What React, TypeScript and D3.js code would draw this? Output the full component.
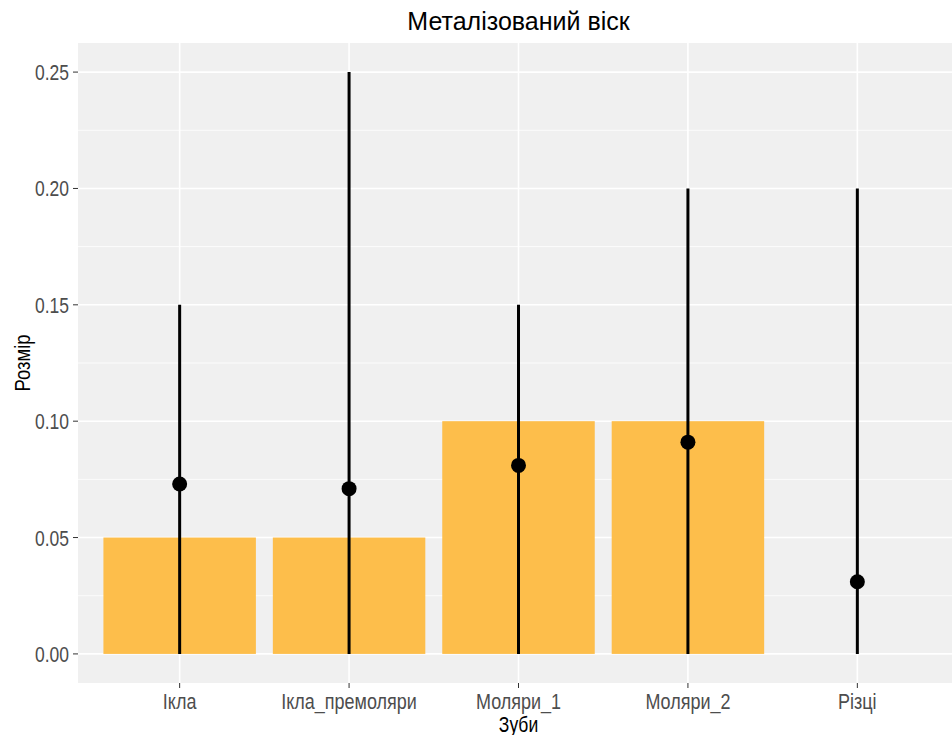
import React from "react";
import * as d3 from "d3";

// Teeth groups and their measurements
const categories = ["Ікла", "Ікла_премоляри", "Моляри_1", "Моляри_2", "Різці"];
const barValues = [0.05, 0.05, 0.1, 0.1, 0];
const meanValues = [0.073, 0.071, 0.081, 0.091, 0.031];
const minValues = [0, 0, 0, 0, 0];
const maxValues = [0.15, 0.25, 0.15, 0.2, 0.2];
const yTicks = [0, 0.05, 0.1, 0.15, 0.2, 0.25];
const yMinorTicks = [0.025, 0.075, 0.125, 0.175, 0.225];

const W = 952;
const H = 735;
const panel = { left: 78, right: 959, top: 43, bottom: 683 };
const font = "'Liberation Sans', Arial, sans-serif";
// glyphs are drawn a little taller than wide
const stretch = 1.22;

export default function App() {
  const step = (panel.right - panel.left) / (categories.length - 1 + 1.2);
  const x = d3
    .scalePoint<string>()
    .domain(categories)
    .range([panel.left + 0.6 * step, panel.right - 0.6 * step]);
  const y = d3.scaleLinear().domain([-0.0125, 0.2625]).range([panel.bottom, panel.top]);
  const barW = step * 0.9;

  return (
    <svg
      width={W}
      height={H}
      style={{ position: "absolute", left: 0, top: 0, background: "#fff" }}
    >
      <defs>
        <clipPath id="panelClip">
          <rect x={panel.left} y={panel.top} width={W - panel.left} height={panel.bottom - panel.top} />
        </clipPath>
      </defs>
      <rect
        x={panel.left}
        y={panel.top}
        width={panel.right - panel.left}
        height={panel.bottom - panel.top}
        fill="#F0F0F0"
      />
      <g clipPath="url(#panelClip)">
        {yMinorTicks.map((t) => (
          <line key={"mn" + t} x1={panel.left} x2={panel.right} y1={y(t)} y2={y(t)} stroke="#fff" strokeWidth={0.8} />
        ))}
        {yTicks.map((t) => (
          <line key={"mj" + t} x1={panel.left} x2={panel.right} y1={y(t)} y2={y(t)} stroke="#fff" strokeWidth={1.6} />
        ))}
        {categories.map((c) => (
          <line key={"vx" + c} x1={x(c)} x2={x(c)} y1={panel.top} y2={panel.bottom} stroke="#fff" strokeWidth={1.6} />
        ))}
        {categories.map((c, i) =>
          barValues[i] > 0 ? (
            <rect
              key={"bar" + c}
              x={(x(c) as number) - barW / 2}
              y={y(barValues[i])}
              width={barW}
              height={y(0) - y(barValues[i])}
              fill="#FDBE4B"
            />
          ) : null
        )}
        {categories.map((c, i) => (
          <line
            key={"err" + c}
            x1={x(c)}
            x2={x(c)}
            y1={y(minValues[i])}
            y2={y(maxValues[i])}
            stroke="#000"
            strokeWidth={3}
          />
        ))}
        {categories.map((c, i) => (
          <circle key={"pt" + c} cx={x(c)} cy={y(meanValues[i])} r={7.5} fill="#000" />
        ))}
      </g>

      {/* y axis */}
      {yTicks.map((t) => (
        <g key={"yt" + t}>
          <line x1={panel.left - 5} x2={panel.left} y1={y(t)} y2={y(t)} stroke="#333" strokeWidth={1} />
          <text
            transform={`translate(${panel.left - 9},${y(t) + 8}) scale(1,${stretch})`}
            textAnchor="end"
            fontFamily={font}
            fontSize={17.5}
            fill="#4D4D4D"
          >
            {d3.format(".2f")(t)}
          </text>
        </g>
      ))}

      {/* x axis */}
      {categories.map((c) => (
        <g key={"xt" + c}>
          <line x1={x(c)} x2={x(c)} y1={panel.bottom} y2={panel.bottom + 5} stroke="#333" strokeWidth={1} />
          <text
            transform={`translate(${x(c)},709) scale(1,${stretch})`}
            textAnchor="middle"
            fontFamily={font}
            fontSize={18}
            fill="#4D4D4D"
          >
            {c}
          </text>
        </g>
      ))}

      <text
        transform={`translate(${(panel.left + panel.right) / 2},732) scale(1,${stretch})`}
        textAnchor="middle"
        fontFamily={font}
        fontSize={17.5}
        fill="#000"
      >
        Зуби
      </text>
      <text
        transform={`translate(30,${(panel.top + panel.bottom) / 2}) rotate(-90) scale(1,${stretch})`}
        textAnchor="middle"
        fontFamily={font}
        fontSize={18.5}
        fill="#000"
      >
        Розмір
      </text>
      <text x={(panel.left + panel.right) / 2} y={30} textAnchor="middle" fontFamily={font} fontSize={25} fill="#000">
        Металізований віск
      </text>
    </svg>
  );
}
